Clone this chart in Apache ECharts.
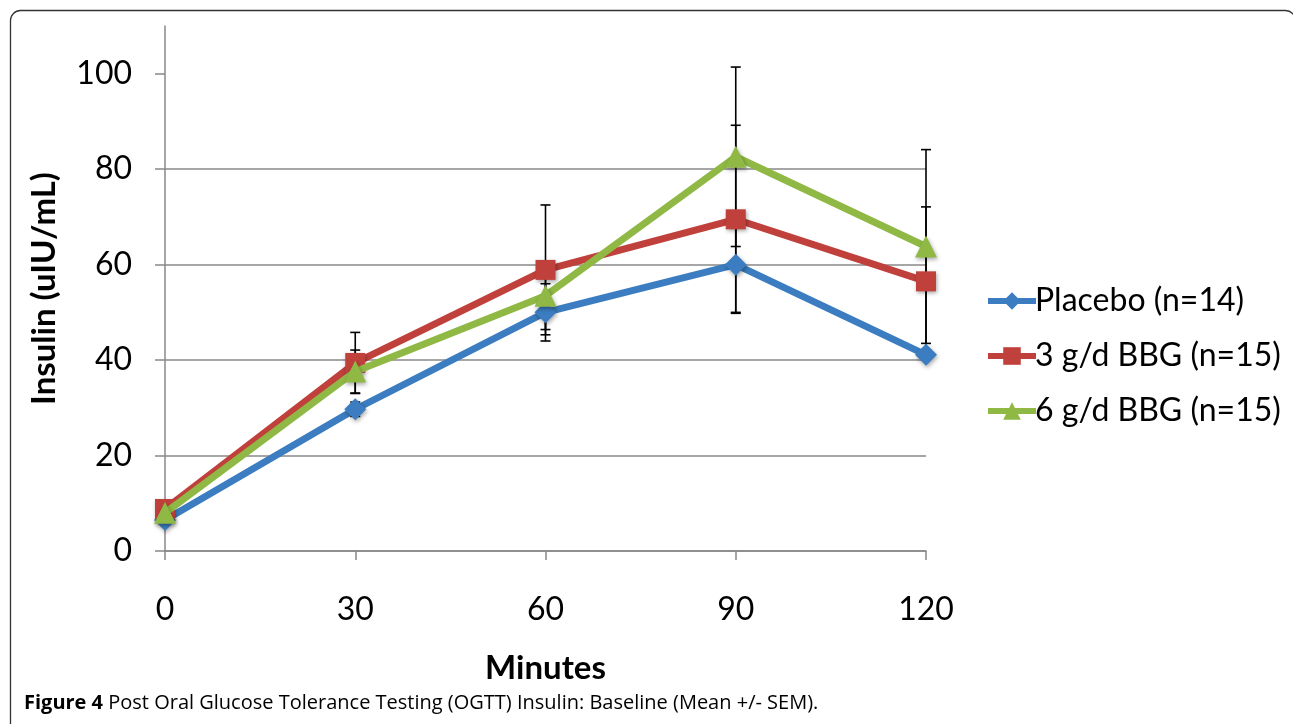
<!DOCTYPE html>
<html><head><meta charset="utf-8">
<script src="https://cdn.jsdelivr.net/npm/echarts@6/dist/echarts.min.js"></script>
<style>html,body{margin:0;padding:0;background:#fff}#c{width:1293px;height:724px}</style>
</head><body><div id="c"></div>
<script>
const minutes = [0, 30, 60, 90, 120];
const xTicks = [0, 30, 60, 90, 120];
const yTicks = [0, 20, 40, 60, 80, 100];
const seriesNames = ['Placebo (n=14)', '3 g/d BBG (n=15)', '6 g/d BBG (n=15)'];
const placebo = [6.5, 29.7, 50.0, 60.0, 41.1];
const placeboErr = [1.0, 1.5, 6.0, 10.0, 1.0];
const bbg3 = [8.8, 39.4, 58.9, 69.5, 56.5];
const bbg3Err = [1.0, 6.4, 13.6, 19.7, 15.6];
const bbg6 = [8.0, 37.6, 53.5, 82.6, 63.8];
const bbg6Err = [1.0, 4.5, 7.1, 18.8, 20.3];
const caption = 'Post Oral Glucose Tolerance Testing (OGTT) Insulin: Baseline (Mean +/- SEM).';

const colors = ['#3B7DC0', '#C0403C', '#8FB944'];
const symbols = ['diamond', 'rect', 'triangle'];
const symSizes = [22, 20, 22];
const means = [placebo, bbg3, bbg6];
const errs = [placeboErr, bbg3Err, bbg6Err];
const FONT = 'Lato';

const chart = echarts.init(document.getElementById('c'));

const errData = [];
means.forEach((m, s) => m.forEach((v, i) => errData.push([minutes[i], v - errs[s][i], v + errs[s][i]])));

const series = [{
  type: 'custom',
  name: 'err',
  z: 1,
  silent: true,
  data: errData,
  encode: { x: 0, y: [1, 2] },
  renderItem: function (params, api) {
    const lo = api.coord([api.value(0), api.value(1)]);
    const hi = api.coord([api.value(0), api.value(2)]);
    const w = 5;
    const st = { stroke: '#000', lineWidth: 1.6 };
    return {
      type: 'group',
      children: [
        { type: 'line', shape: { x1: lo[0], y1: lo[1], x2: hi[0], y2: hi[1] }, style: st },
        { type: 'line', shape: { x1: lo[0] - w, y1: lo[1], x2: lo[0] + w, y2: lo[1] }, style: st },
        { type: 'line', shape: { x1: hi[0] - w, y1: hi[1], x2: hi[0] + w, y2: hi[1] }, style: st }
      ]
    };
  }
}];
means.forEach((m, s) => {
  series.push({
    type: 'line',
    name: seriesNames[s],
    z: 3 + s,
    data: m.map((v, i) => [minutes[i], v]),
    symbol: symbols[s],
    symbolSize: symSizes[s],
    showAllSymbol: true,
    lineStyle: { color: colors[s], width: 7 },
    itemStyle: { color: colors[s], shadowColor: 'rgba(0,0,0,0.35)', shadowBlur: 4, shadowOffsetX: 1, shadowOffsetY: 2 },
    emphasis: { disabled: true },
    animation: false
  });
});

chart.setOption({
  animation: false,
  color: colors,
  grid: { left: 165, right: 367, top: 26, bottom: 173, containLabel: false },
  xAxis: {
    type: 'value', min: 0, max: 120, interval: 30,
    axisLine: { show: true, onZero: false, lineStyle: { color: '#888', width: 1.5 } },
    axisTick: { show: true, length: 9, lineStyle: { color: '#888', width: 1.5 } },
    axisLabel: { margin: 43, fontSize: 32, color: '#000', fontFamily: FONT, customValues: xTicks },
    splitLine: { show: false },
    name: 'Minutes', nameLocation: 'middle', nameGap: 101,
    nameTextStyle: { fontSize: 33, fontWeight: 'bold', color: '#000', fontFamily: FONT }
  },
  yAxis: {
    type: 'value', min: 0, max: 110, interval: 20,
    axisLine: { show: true, lineStyle: { color: '#888', width: 1.5 } },
    axisTick: { show: true, length: 10, lineStyle: { color: '#888', width: 1.5 }, customValues: yTicks },
    axisLabel: { margin: 33, fontSize: 32, color: '#000', fontFamily: FONT, customValues: yTicks },
    splitLine: { show: true, showMaxLine: false, lineStyle: { color: '#888', width: 1.5 } },
    name: 'Insulin (uIU/mL)', nameLocation: 'middle', nameGap: 104, nameRotate: 90,
    nameTextStyle: { fontSize: 33, fontWeight: 'bold', color: '#000', fontFamily: FONT }
  },
  legend: {
    orient: 'vertical', left: 980, top: 280, itemGap: 23,
    itemWidth: 48, itemHeight: 22,
    data: seriesNames,
    lineStyle: { width: 6 },
    textStyle: { fontSize: 32, color: '#000', fontFamily: FONT, padding: [0, 0, 0, -6] }
  },
  graphic: [
    { type: 'rect', shape: { x: 10.5, y: 10.5, width: 1285, height: 730, r: 10 }, style: { fill: null, stroke: '#333', lineWidth: 1.3 }, z: -1 },
    { type: 'text', left: 24, top: 693, style: {
      text: '{b|Figure 4}{n| ' + caption + '}',
      rich: {
        b: { fontSize: 20, fontWeight: 'bold', fontFamily: 'Open Sans', fill: '#000' },
        n: { fontSize: 20, fontFamily: 'Open Sans', fill: '#000' }
      }, fontSize: 20, fill: '#000' } }
  ],
  series: series
});
</script></body></html>
